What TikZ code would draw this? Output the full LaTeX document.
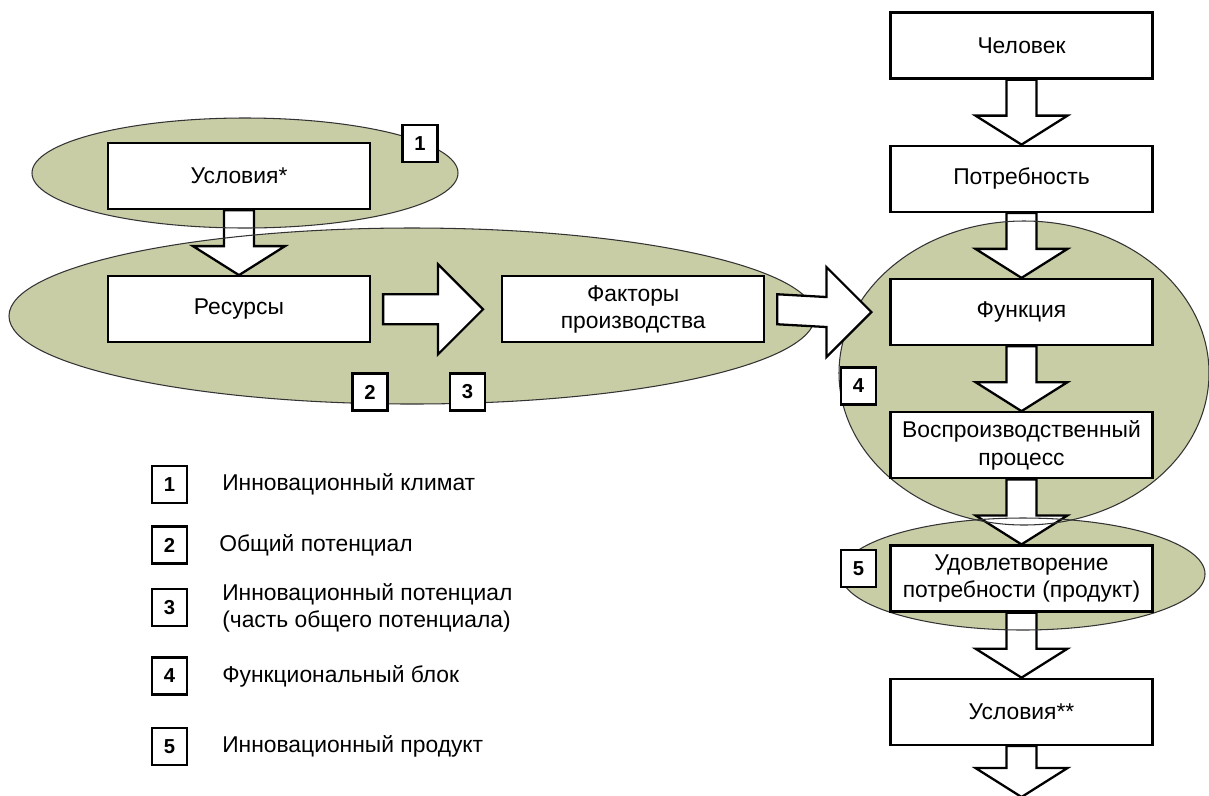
\documentclass[tikz,border=0pt]{standalone}
\usepackage{fontspec}
\setmainfont{Liberation Sans}
\usepackage{xcolor}
\usetikzlibrary{positioning, calc, backgrounds}

\definecolor{zonegreen}{RGB}{201,205,166}

\pgfdeclarelayer{arrows}
\pgfdeclarelayer{rims}
\pgfsetlayers{background,arrows,rims,main}

\newcommand{\fatdown}[2]{%
  \draw[fatarrow] ($(#1)+(-15,0)$) -- ($(#2)+(-15,-29)$) -- ($(#2)+(-46,-29)$) -- (#2)
    -- ($(#2)+(46,-29)$) -- ($(#2)+(15,-29)$) -- ($(#1)+(15,0)$) -- cycle;}
\newcommand{\fatright}[2]{%
  \draw[fatarrow] ($(#1)+(12,-15)$) -- ($(#2)+(-63,-15)$) -- ($(#2)+(-63,-45)$) -- ($(#2)+(-18,0)$)
    -- ($(#2)+(-63,45)$) -- ($(#2)+(-63,15)$) -- ($(#1)+(12,15)$) -- cycle;}

\begin{document}
\begin{tikzpicture}[
  x=0.02cm, y=-0.02cm,
  node distance=1.3cm and 2.6cm,
  box/.style={rectangle, draw, line width=1.3pt, fill=white, minimum width=5.24cm, minimum height=1.32cm, inner sep=2pt, align=center, font=\fontsize{13}{15.5}\selectfont},
  tag/.style={rectangle, draw, line width=1.2pt, fill=white, minimum width=0.7cm, minimum height=0.74cm, inner sep=0pt, font=\fontsize{11.5}{13}\selectfont\bfseries},
  legend/.style={align=left, font=\fontsize{13}{15.5}\selectfont},
  zone/.style={fill=zonegreen},
  rim/.style={draw=black!80, line width=0.6pt},
  fatarrow/.style={draw, line width=1.3pt, fill=white, line join=miter},
]
  \useasboundingbox (0,0) rectangle (1209,795);

  % left branch
  \node[box] (cond1) at (239,176) {Условия*};
  \node[box, below=of cond1] (res) {Ресурсы};
  \node[box, right=of res] (fac) {Факторы\\производства};

  % right column
  \node[box] (man) at (1021.5,45.5) {Человек};
  \node[box, below=of man] (need) {Потребность};
  \node[box, below=of need] (func) {Функция};
  \node[box, below=of func] (proc) {Воспроизводственный\\процесс};
  \node[box, below=of proc] (sat) {Удовлетворение\\потребности (продукт)};
  \node[box, below=of sat] (cond2) {Условия**};
  \coordinate (exit) at (1021.5,797);

  \begin{pgfonlayer}{background}
    \fill[white] (0,0) rectangle (1209,795);
    \fill[zone] (245,173) ellipse [x radius=213, y radius=55];
    \fill[zone] (412,316) ellipse [x radius=403, y radius=88];
    \fill[zone] (1024,373) ellipse [x radius=185, y radius=152];
    \fill[zone] (1023,574) ellipse [x radius=182, y radius=56];
  \end{pgfonlayer}

  \begin{pgfonlayer}{rims}
    \draw[rim] (245,173) ellipse [x radius=213, y radius=55];
    \draw[rim] (412,316) ellipse [x radius=403, y radius=88];
    \draw[rim] (1024,373) ellipse [x radius=185, y radius=152];
    \draw[rim] (1023,574) ellipse [x radius=182, y radius=56];
  \end{pgfonlayer}

  \begin{pgfonlayer}{arrows}
    \fatdown{cond1.south}{res.north}
    \fatdown{man.south}{need.north}
    \fatdown{need.south}{func.north}
    \fatdown{func.south}{proc.north}
    \fatdown{proc.south}{sat.north}
    \fatdown{sat.south}{cond2.north}
    \fatdown{cond2.south}{exit}
  \end{pgfonlayer}
  \fatright{res.east}{fac.west}
  \fatright{fac.east}{func.west}

  \node[tag] (t1) at (420,143.5) {1};
  \node[tag] (t2) at (370,392) {2};
  \node[tag] (t3) at (467.5,392) {3};
  \node[tag] (t4) at (858.5,386) {4};
  \node[tag] (t5) at (858.5,568.5) {5};

  % legend
  \node[tag] (k1) at (169.5,484.5) {1};
  \node[tag] (k2) at (169.5,545) {2};
  \node[tag] (k3) at (169.5,607.5) {3};
  \node[tag] (k4) at (169.5,676) {4};
  \node[tag] (k5) at (169.5,746.5) {5};
  \node[legend, right=0.56cm of k1] (l1) {Инновационный климат};
  \node[legend, right=0.5cm of k2] (l2) {Общий потенциал};
  \node[legend, right=0.56cm of k3] (l3) {Инновационный потенциал\\(часть общего потенциала)};
  \node[legend, right=0.56cm of k4] (l4) {Функциональный блок};
  \node[legend, right=0.56cm of k5] (l5) {Инновационный продукт};
\end{tikzpicture}
\end{document}
